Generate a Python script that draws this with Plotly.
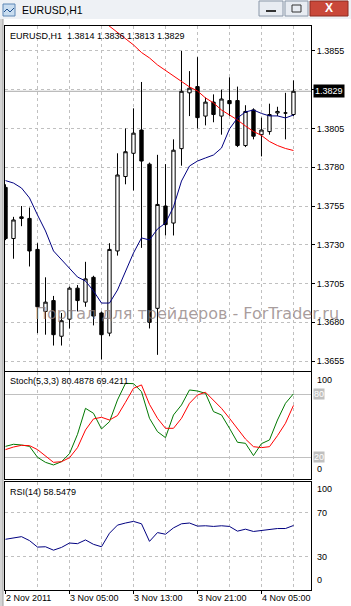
import plotly.graph_objects as go

W, H = 351, 606


def px(x):
    return x / W


def py(y):
    return 1 - y / H


# ---------------- data ----------------
bars = list(range(37))
open_ = [1.3767, 1.3734, 1.3748, 1.3747, 1.3727, 1.3687, 1.3694, 1.3671, 1.3682, 1.3702,
         1.3693, 1.3709, 1.3686, 1.3673, 1.3726, 1.3774, 1.3789, 1.3804, 1.3782, 1.3689,
         1.3755, 1.3744, 1.3792, 1.3828, 1.3832, 1.3813, 1.3822, 1.3813, 1.3823, 1.3823,
         1.3794, 1.3817, 1.3801, 1.3803, 1.3815, 1.3815, 1.3814]
high = [1.3769, 1.3748, 1.3755, 1.3754, 1.3731, 1.3709, 1.3697, 1.3686, 1.3703, 1.3704,
        1.3719, 1.3710, 1.3687, 1.3731, 1.3789, 1.3805, 1.3818, 1.3835, 1.3783, 1.3788,
        1.3782, 1.3798, 1.3855, 1.3842, 1.3851, 1.3825, 1.3827, 1.3830, 1.3838, 1.3832,
        1.3820, 1.3818, 1.3812, 1.3821, 1.3819, 1.3828, 1.3836]
low = [1.3733, 1.3721, 1.3742, 1.3716, 1.3673, 1.3672, 1.3665, 1.3665, 1.3676, 1.3687,
       1.3690, 1.3678, 1.3656, 1.3671, 1.3723, 1.3769, 1.3765, 1.3728, 1.3676, 1.3659,
       1.3736, 1.3736, 1.3781, 1.3813, 1.3805, 1.3807, 1.3809, 1.3801, 1.3813, 1.3793,
       1.3793, 1.3798, 1.3787, 1.3801, 1.3813, 1.3798, 1.3813]
close = [1.3734, 1.3746, 1.3747, 1.3726, 1.3690, 1.3693, 1.3672, 1.3681, 1.3702, 1.3694,
         1.3708, 1.3684, 1.3672, 1.3727, 1.3775, 1.3790, 1.3802, 1.3784, 1.3680, 1.3756,
         1.3743, 1.3791, 1.3829, 1.3831, 1.3812, 1.3822, 1.3814, 1.3824, 1.3821, 1.3794,
         1.3816, 1.3800, 1.3804, 1.3814, 1.3816, 1.3815, 1.3829]

ma_fast = [1.37714, 1.37698, 1.37666, 1.37602, 1.37492, 1.37389, 1.37260, 1.37202, 1.37150, 1.37092,
           1.37066, 1.37002, 1.36924, 1.36924, 1.37008, 1.37124, 1.37247, 1.37344, 1.37331, 1.37402,
           1.37440, 1.37544, 1.37711, 1.37808, 1.37840, 1.37860, 1.37879, 1.37924, 1.38047, 1.38118,
           1.38157, 1.38169, 1.38147, 1.38131, 1.38131, 1.38118, 1.38137]
ma_slow = [None] * 12 + [1.38750, 1.38711, 1.38673, 1.38634, 1.38589, 1.38540, 1.38505, 1.38460,
                         1.38424, 1.38385, 1.38350, 1.38318, 1.38292, 1.38247, 1.38215, 1.38169,
                         1.38137, 1.38105, 1.38066, 1.38031, 1.38005, 1.37966, 1.37940, 1.37921,
                         1.37908]

stoch_k = [30.4, 32.4, 31.7, 30.4, 20.0, 15.2, 12.7, 15.8, 23.5, 41.9,
           66.6, 61.9, 47.0, 53.9, 74.6, 90.4, 90.1, 82.5, 57.1, 44.4,
           38.7, 60.3, 69.8, 84.1, 83.1, 80.9, 63.5, 60.3, 47.6, 34.3,
           33.3, 21.6, 33.0, 36.5, 55.5, 71.4, 80.4878]
stoch_d = [27.3, 29.8, 31.4, 31.1, 27.3, 21.6, 15.2, 15.8, 19.6, 29.2,
           46.0, 56.5, 58.1, 55.5, 59.7, 72.4, 85.7, 88.9, 70.4, 57.1,
           47.6, 47.6, 57.1, 71.4, 79.3, 81.9, 74.6, 66.6, 57.1, 47.0,
           37.4, 30.1, 29.2, 30.1, 40.6, 52.4, 69.4211]
rsi = [46.0, 47.5, 48.4, 44.8, 38.9, 39.2, 36.1, 38.6, 42.6, 42.0,
       45.4, 41.4, 39.2, 51.5, 58.9, 60.8, 62.3, 60.1, 44.1, 52.1,
       50.6, 56.4, 60.1, 60.8, 58.0, 58.3, 57.7, 58.3, 57.7, 53.4,
       55.2, 53.1, 54.0, 55.2, 55.8, 55.8, 58.5479]

price_ticks = [1.3655, 1.3680, 1.3705, 1.3730, 1.3755, 1.3780, 1.3805, 1.3830, 1.3855]
grid_bars = [4, 8, 12, 16, 20, 24, 28, 32, 36]
date_ticks = [0, 8, 16, 24, 32]
date_labels = ["2 Nov 2011", "3 Nov 05:00", "3 Nov 13:00", "3 Nov 21:00", "4 Nov 05:00"]
stoch_levels = [20, 80]
rsi_levels = [30, 70]

# ---------------- layout geometry ----------------
X_LEFT, X_RIGHT = 4.5, 311
MAIN_T, MAIN_B = 26, 370.5
ST_T, ST_B = 372, 478.5
RS_T, RS_B = 482, 589.5
FONT = "Liberation Sans, Arial, sans-serif"
GRID = "#C0C0C0"

xrange_ = [-0.125, 38.19]

fig = go.Figure()

fig.add_trace(go.Candlestick(
    x=bars, open=open_, high=high, low=low, close=close,
    increasing=dict(line=dict(color="black", width=1), fillcolor="white"),
    decreasing=dict(line=dict(color="black", width=1), fillcolor="black"),
    whiskerwidth=0, showlegend=False, xaxis="x", yaxis="y", hoverinfo="skip"))
fig.add_trace(go.Scatter(x=bars, y=ma_slow, mode="lines", line=dict(color="#FF0000", width=1),
                         xaxis="x", yaxis="y", showlegend=False, hoverinfo="skip"))
fig.add_trace(go.Scatter(x=bars, y=ma_fast, mode="lines", line=dict(color="#000080", width=1),
                         xaxis="x", yaxis="y", showlegend=False, hoverinfo="skip"))

fig.add_trace(go.Scatter(x=bars, y=stoch_k, mode="lines", line=dict(color="#007800", width=1),
                         xaxis="x2", yaxis="y2", showlegend=False, hoverinfo="skip"))
fig.add_trace(go.Scatter(x=bars, y=stoch_d, mode="lines", line=dict(color="#FF0000", width=1),
                         xaxis="x2", yaxis="y2", showlegend=False, hoverinfo="skip"))

fig.add_trace(go.Scatter(x=bars, y=rsi, mode="lines", line=dict(color="#000080", width=1),
                         xaxis="x3", yaxis="y3", showlegend=False, hoverinfo="skip"))

xdom = [px(X_LEFT), px(X_RIGHT)]


def xaxis_common(anchor, ticks=False):
    d = dict(domain=xdom, range=xrange_, anchor=anchor, showline=True, linecolor="black",
             linewidth=1, mirror=True, showgrid=False, zeroline=False, showticklabels=False,
             fixedrange=True, rangeslider=dict(visible=False),
             minor=dict(tickmode="array", tickvals=grid_bars, showgrid=True, gridcolor=GRID,
                        griddash="3px,3px", gridwidth=1, ticks=""))
    if ticks:
        d.update(tickmode="array", tickvals=date_ticks, ticks="outside", ticklen=3,
                 tickcolor="black", tickwidth=1)
    else:
        d.update(ticks="")
    return d


ptext = ["" if abs(v - close[-1]) < 0.0003 else f"{v:.4f}" for v in price_ticks]

fig.update_layout(
    width=W, height=H, margin=dict(l=0, r=0, t=0, b=0),
    paper_bgcolor="white", plot_bgcolor="white",
    xaxis=xaxis_common("y"),
    xaxis2=xaxis_common("y2"),
    xaxis3=xaxis_common("y3", ticks=True),
    yaxis=dict(domain=[py(MAIN_B), py(MAIN_T)], range=[1.36489, 1.38711], side="right",
               anchor="x", tickmode="array", tickvals=price_ticks, ticktext=ptext,
               ticks="outside", ticklen=3, tickcolor="black", showgrid=True, gridcolor=GRID,
               griddash="3px,3px", showline=True, linecolor="black", mirror=True,
               zeroline=False, tickfont=dict(family=FONT, size=9, color="black"), fixedrange=True),
    yaxis2=dict(domain=[py(ST_B), py(ST_T)], range=[-0.19, 101.2], side="right", anchor="x2",
                tickmode="array", tickvals=stoch_levels, showticklabels=False, ticks="",
                showgrid=True, gridcolor=GRID, gridwidth=1, showline=True, linecolor="black",
                mirror=True, zeroline=False, fixedrange=True),
    yaxis3=dict(domain=[py(RS_B), py(RS_T)], range=[0.28, 98.15], side="right", anchor="x3",
                tickmode="array", tickvals=rsi_levels, showticklabels=False, ticks="",
                showgrid=True, gridcolor=GRID, griddash="3px,3px", showline=True,
                linecolor="black", mirror=True, zeroline=False, fixedrange=True),
)

shapes = []
ann = []

# window chrome
shapes.append(dict(type="rect", xref="paper", yref="paper", x0=0, x1=1, y0=py(19), y1=1,
                   fillcolor="#EEF1F5", line=dict(width=0), layer="below"))
shapes.append(dict(type="rect", xref="paper", yref="paper", x0=0, x1=px(3), y0=0, y1=py(19),
                   fillcolor="#D4D4D4", line=dict(width=0), layer="below"))
shapes.append(dict(type="line", xref="paper", yref="paper", x0=px(3), x1=px(3), y0=0, y1=py(19),
                   line=dict(color="#A0A0A0", width=1), layer="below"))
# icon
shapes.append(dict(type="rect", xref="paper", yref="paper", x0=px(3), x1=px(15), y0=py(16), y1=py(4),
                   fillcolor="#C9DDF0", line=dict(color="#5C86B5", width=1)))
shapes.append(dict(type="path", xref="paper", yref="paper",
                   path=f"M {px(4)},{py(12)} L {px(7)},{py(9)} L {px(10)},{py(12)} L {px(14)},{py(8)}",
                   line=dict(color="#1F4E8C", width=1)))
# buttons
for x0, x1 in [(259, 283), (285, 308)]:
    shapes.append(dict(type="rect", xref="paper", yref="paper", x0=px(x0), x1=px(x1), y0=py(16), y1=py(1),
                       fillcolor="#E8ECF2", line=dict(color="#8A97A8", width=1)))
shapes.append(dict(type="line", xref="paper", yref="paper", x0=px(266), x1=px(276), y0=py(11), y1=py(11),
                   line=dict(color="#333333", width=2)))
shapes.append(dict(type="rect", xref="paper", yref="paper", x0=px(292), x1=px(301), y0=py(12), y1=py(5),
                   fillcolor="rgba(0,0,0,0)", line=dict(color="#333333", width=1)))
shapes.append(dict(type="rect", xref="paper", yref="paper", x0=px(310), x1=px(348), y0=py(16), y1=py(1),
                   fillcolor="#C9483A", line=dict(color="#8C2A20", width=1)))
ann.append(dict(xref="paper", yref="paper", x=px(329), y=py(8.5), text="<b>X</b>", showarrow=False,
                font=dict(family=FONT, size=12, color="white"), xanchor="center", yanchor="middle"))
ann.append(dict(xref="paper", yref="paper", x=px(20), y=py(10), text="EURUSD,H1", showarrow=False,
                font=dict(family=FONT, size=10.5, color="black"), xanchor="left", yanchor="middle"))

# current price line + label
shapes.append(dict(type="line", xref="x", yref="y", x0=xrange_[0], x1=xrange_[1], y0=close[-1], y1=close[-1],
                   line=dict(color="#A8A8A8", width=1), layer="below"))
ann.append(dict(xref="paper", yref="y", x=px(312.5), y=close[-1], text=f"{close[-1]:.4f}", showarrow=False,
                font=dict(family=FONT, size=9, color="white"), bgcolor="black", xanchor="left",
                yanchor="middle", borderpad=1))

# headers
ann.append(dict(xref="paper", yref="paper", x=px(8), y=py(36),
                text=f"EURUSD,H1  {open_[-1]:.4f} {high[-1]:.4f} {low[-1]:.4f} {close[-1]:.4f}",
                showarrow=False, font=dict(family=FONT, size=9, color="black"),
                xanchor="left", yanchor="middle"))
ann.append(dict(xref="paper", yref="paper", x=px(8), y=py(381),
                text=f"Stoch(5,3,3) {stoch_k[-1]:.4f} {stoch_d[-1]:.4f}", showarrow=False,
                font=dict(family=FONT, size=9, color="black"), xanchor="left", yanchor="middle"))
ann.append(dict(xref="paper", yref="paper", x=px(8), y=py(492),
                text=f"RSI(14) {rsi[-1]:.4f}", showarrow=False,
                font=dict(family=FONT, size=9, color="black"), xanchor="left", yanchor="middle"))

# stoch scale labels
ann.append(dict(xref="paper", yref="y2", x=px(315), y=100, text="100", showarrow=False,
                font=dict(family=FONT, size=9, color="black"), xanchor="left", yanchor="top"))
ann.append(dict(xref="paper", yref="y2", x=px(315), y=0, text="0", showarrow=False,
                font=dict(family=FONT, size=9, color="black"), xanchor="left", yanchor="bottom", yshift=2))
for lv in stoch_levels:
    ann.append(dict(xref="paper", yref="y2", x=px(312.5), y=lv, text=str(lv), showarrow=False,
                    font=dict(family=FONT, size=9, color="white"), bgcolor="#C0C0C0",
                    xanchor="left", yanchor="middle", borderpad=0))
# rsi scale labels
ann.append(dict(xref="paper", yref="y3", x=px(315), y=98, text="100", showarrow=False,
                font=dict(family=FONT, size=9, color="black"), xanchor="left", yanchor="top"))
ann.append(dict(xref="paper", yref="y3", x=px(315), y=0.3, text="0", showarrow=False,
                font=dict(family=FONT, size=9, color="black"), xanchor="left", yanchor="bottom", yshift=2))
for lv in rsi_levels:
    ann.append(dict(xref="paper", yref="y3", x=px(315), y=lv, text=str(lv), showarrow=False,
                    font=dict(family=FONT, size=9, color="black"), xanchor="left", yanchor="middle"))

# date labels
for t, lab in zip(date_ticks, date_labels):
    ann.append(dict(xref="x3", yref="paper", x=t, y=py(598), text=lab, showarrow=False,
                    font=dict(family=FONT, size=9, color="black"), xanchor="left", yanchor="middle",
                    xshift=-1.5))

# watermark
ann.append(dict(xref="paper", yref="paper", x=px(33), y=py(313),
                text="Портал для трейдеров - ForTrader.ru", showarrow=False,
                font=dict(family="DejaVu Sans, sans-serif", size=16, color="rgba(140,125,125,0.75)"),
                xanchor="left", yanchor="middle"))

fig.update_layout(shapes=shapes, annotations=ann, boxgap=0.4)
fig.write_html("out.html")
